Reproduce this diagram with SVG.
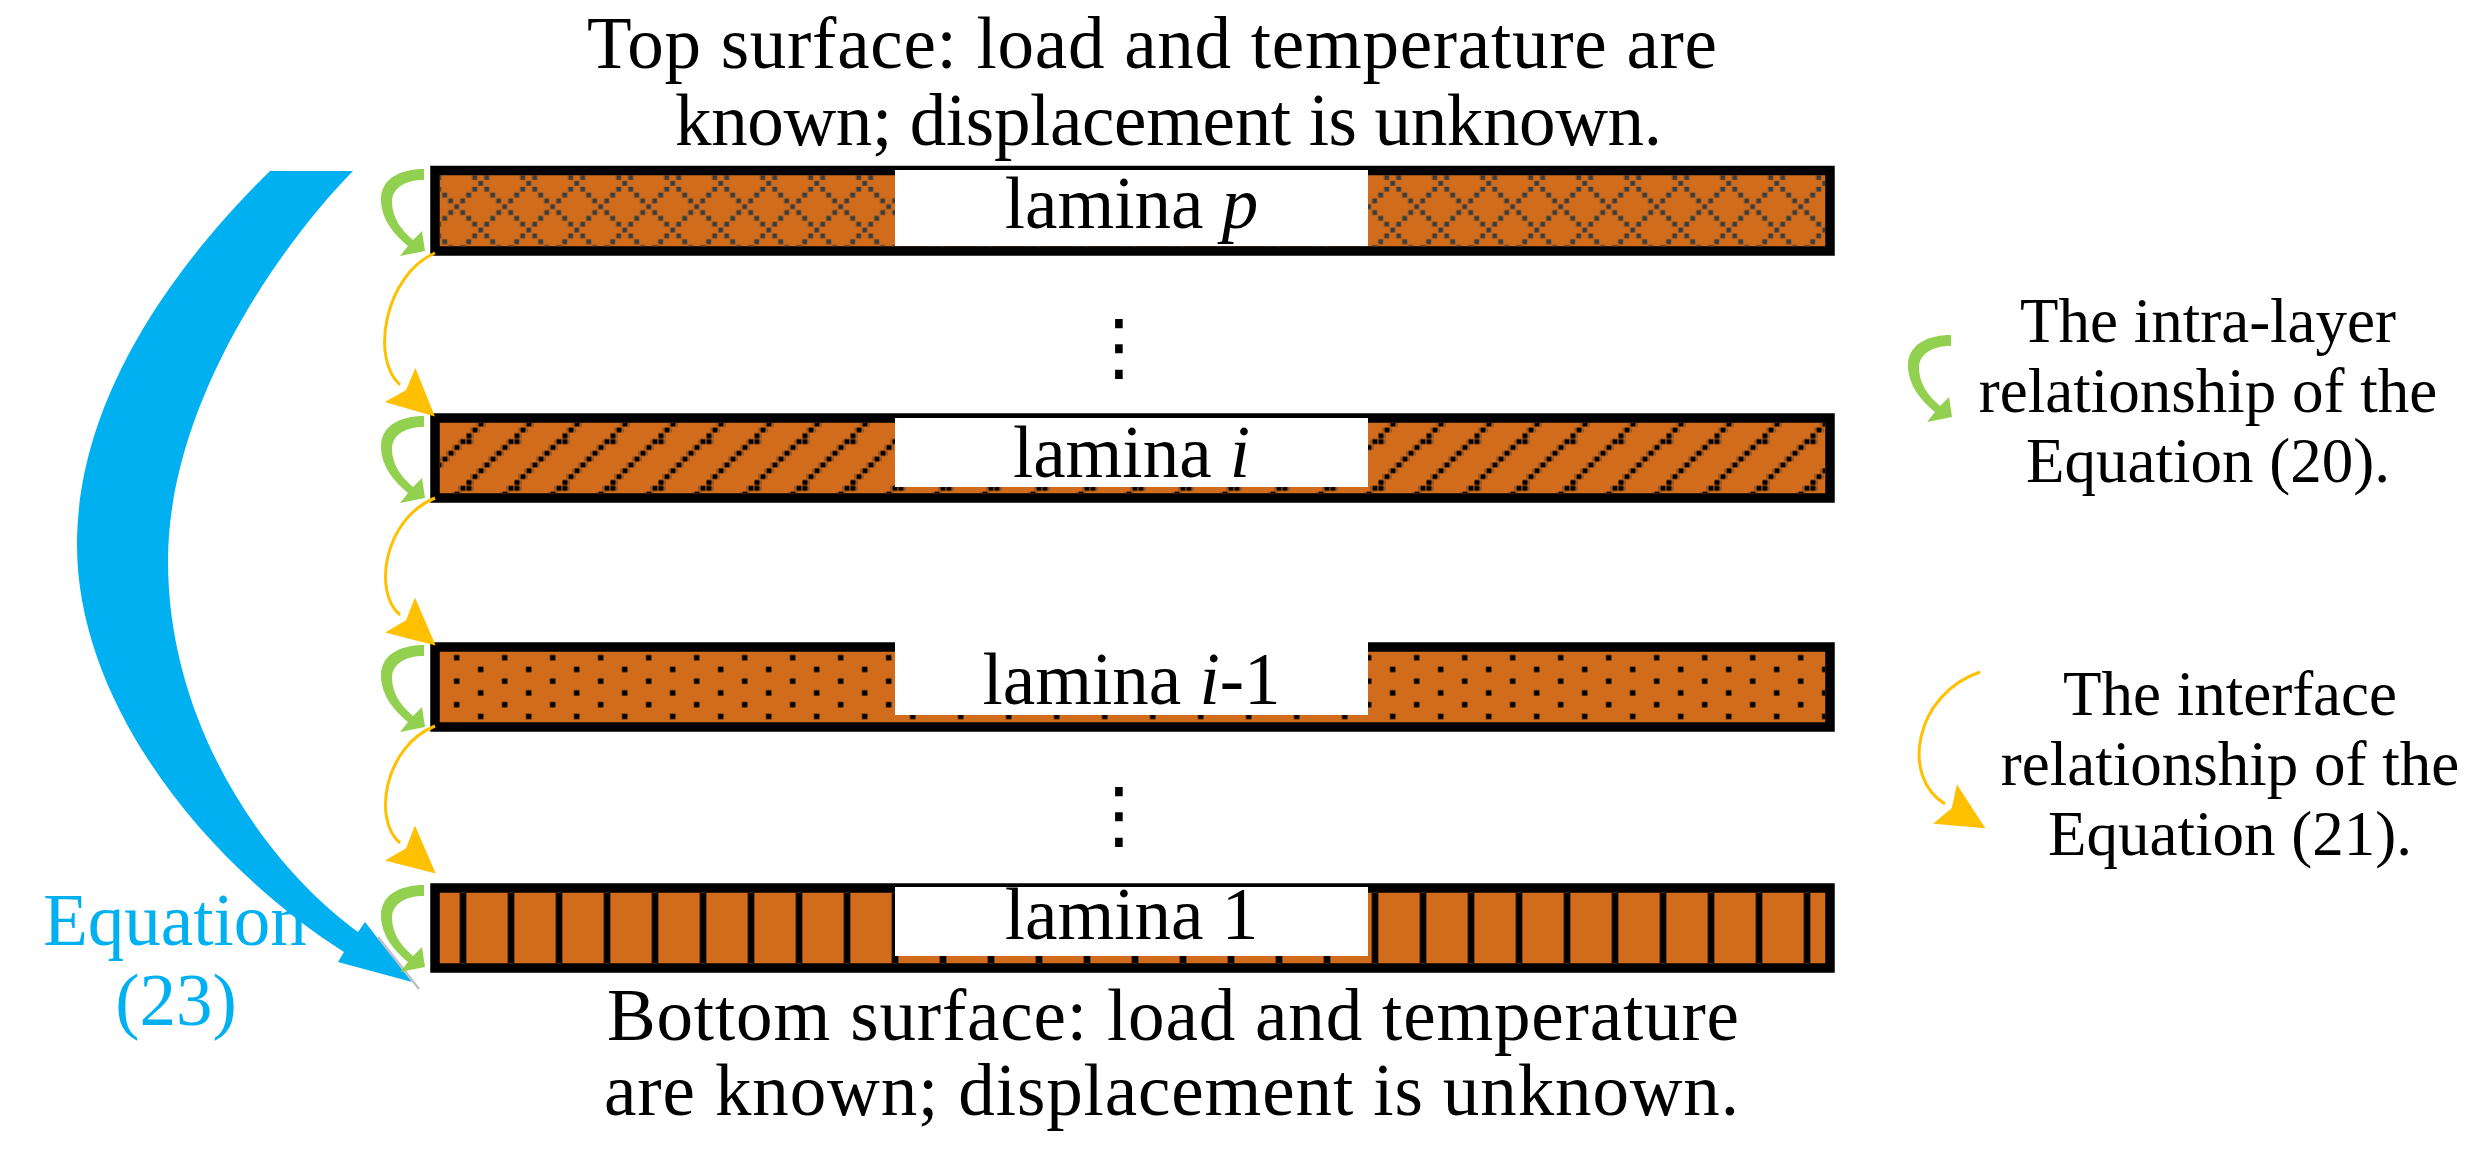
<svg xmlns="http://www.w3.org/2000/svg" width="2486" height="1157" viewBox="0 0 2486 1157">
<style>
.t{font-family:"Liberation Serif","Times New Roman",serif;font-size:73px;fill:#000}
.s{font-size:63px}
.eq{fill:#00B0F0}
.bar{fill:#D06C1C;stroke:#000;stroke-width:9.5}
.lbl{fill:#fff}
.dots{font-family:"DejaVu Sans",sans-serif;font-size:74px;fill:#000}
.ycon{fill:none;stroke:#FFC000;stroke-width:3;marker-end:url(#ah)}
.green{fill:#92D050}
</style>
<defs>
<marker id="ah" markerUnits="userSpaceOnUse" orient="auto" markerWidth="100" markerHeight="100" refX="50" refY="50">
<path d="M 97,50 L 50,27 L 58,50 L 50,73 Z" fill="#FFC000"/>
</marker>
<path id="garrow" d="M 0,0 C -24,0 -44,10 -43,32 C -42,52 -29,66 -16,77 L -24,87 L 1,82 L -2,62 L -11,71 C -23,61 -32,48 -32,33 C -32,19 -19,11 0,11 Z"/>
<pattern id="pDiamond" patternUnits="userSpaceOnUse" x="453.7" y="203.7" width="48" height="46.7">
<g fill="#3C3C3C">
<rect x="0.6" y="0.6" width="4.8" height="4.8"/>
<rect x="6.6" y="6.44" width="4.8" height="4.8"/>
<rect x="12.6" y="12.28" width="4.8" height="4.8"/>
<rect x="18.6" y="18.12" width="4.8" height="4.8"/>
<rect x="24.6" y="23.96" width="4.8" height="4.8"/>
<rect x="30.6" y="29.8" width="4.8" height="4.8"/>
<rect x="36.6" y="35.64" width="4.8" height="4.8"/>
<rect x="42.6" y="41.48" width="4.8" height="4.8"/>
<rect x="42.6" y="6.44" width="4.8" height="4.8"/>
<rect x="36.6" y="12.28" width="4.8" height="4.8"/>
<rect x="30.6" y="18.12" width="4.8" height="4.8"/>
<rect x="18.6" y="29.8" width="4.8" height="4.8"/>
<rect x="12.6" y="35.64" width="4.8" height="4.8"/>
<rect x="6.6" y="41.48" width="4.8" height="4.8"/>
</g>
</pattern>
<pattern id="pDiag" patternUnits="userSpaceOnUse" x="802" y="485.3" width="48" height="46.7">
<g fill="#A4561A">
<rect x="-2" y="0.6" width="10" height="4.8"/>
<rect x="4" y="35.6" width="10" height="4.8"/>
<rect x="10" y="29.8" width="10" height="4.8"/>
<rect x="16" y="23.9" width="10" height="4.8"/>
<rect x="22" y="18.1" width="10" height="4.8"/>
<rect x="28" y="12.3" width="10" height="4.8"/>
<rect x="34" y="6.4" width="10" height="4.8"/>
<rect x="40" y="0.6" width="10" height="4.8"/>
<rect x="-2" y="41.5" width="10" height="4.8"/>
</g>
<g fill="#000">
<rect x="0.6" y="0.6" width="4.8" height="4.8"/>
<rect x="6.6" y="35.64" width="4.8" height="4.8"/>
<rect x="12.6" y="29.8" width="4.8" height="4.8"/>
<rect x="18.6" y="23.96" width="4.8" height="4.8"/>
<rect x="24.6" y="18.12" width="4.8" height="4.8"/>
<rect x="30.6" y="12.28" width="4.8" height="4.8"/>
<rect x="36.6" y="6.44" width="4.8" height="4.8"/>
<rect x="42.6" y="0.6" width="4.8" height="4.8"/>
<rect x="0.6" y="41.48" width="4.8" height="4.8"/>
</g>
</pattern>
<pattern id="pDots" patternUnits="userSpaceOnUse" x="453.7" y="654.7" width="48" height="47">
<g fill="#000">
<rect x="0.3" y="0.3" width="5.4" height="5.4"/>
<rect x="24.3" y="12.05" width="5.4" height="5.4"/>
<rect x="0.3" y="23.8" width="5.4" height="5.4"/>
<rect x="24.3" y="35.55" width="5.4" height="5.4"/>
</g>
</pattern>
<pattern id="pBars" patternUnits="userSpaceOnUse" x="459" y="0" width="48" height="100">
<rect x="0" y="0" width="8" height="100" fill="#8A4512"/>
<rect x="1.2" y="0" width="5.7" height="100" fill="#000"/>
</pattern>
</defs>
<rect width="2486" height="1157" fill="#fff"/>

<g id="top-label">
<text class="t" x="587" y="68" textLength="1130">Top surface: load and temperature are</text>
<text class="t" x="675" y="145" textLength="987">known; displacement is unknown.</text>
</g>

<g id="lamina-p">
<rect class="bar" x="435" y="170.5" width="1395" height="80.5"/>
<rect x="440" y="175" width="1385" height="71.5" fill="url(#pDiamond)"/>
<rect class="lbl" x="895" y="170" width="473" height="76"/>
<text class="t" x="1131.5" y="228" text-anchor="middle">lamina <tspan font-style="italic">p</tspan></text>
</g>

<g id="ellipsis-1">
<text class="dots" x="1119" y="372" text-anchor="middle">⋮</text>
</g>

<g id="lamina-i">
<rect class="bar" x="435" y="418" width="1395" height="80"/>
<rect x="440" y="423" width="1385" height="70" fill="url(#pDiag)"/>
<rect class="lbl" x="895" y="418" width="473" height="69"/>
<text class="t" x="1131.5" y="477" text-anchor="middle">lamina <tspan font-style="italic">i</tspan></text>
</g>

<g id="lamina-i-1">
<rect class="bar" x="435" y="647" width="1395" height="80"/>
<rect x="440" y="652" width="1385" height="70" fill="url(#pDots)"/>
<rect class="lbl" x="895" y="642" width="473" height="73"/>
<text class="t" x="1131.5" y="704" text-anchor="middle">lamina <tspan font-style="italic">i</tspan>-1</text>
</g>

<g id="ellipsis-2">
<text class="dots" x="1119" y="840" text-anchor="middle">⋮</text>
</g>

<g id="lamina-1">
<rect class="bar" x="435" y="888" width="1395" height="80"/>
<rect x="440" y="893" width="1385" height="70" fill="url(#pBars)"/>
<rect class="lbl" x="895" y="887" width="473" height="69"/>
<text class="t" x="1131.5" y="939" text-anchor="middle">lamina 1</text>
</g>

<g id="bottom-label">
<text class="t" x="607" y="1040" textLength="1132">Bottom surface: load and temperature</text>
<text class="t" x="604" y="1115" textLength="1135">are known; displacement is unknown.</text>
</g>

<g id="legend-intra">
<use href="#garrow" class="green" transform="translate(1951,335)"/>
<text class="t s" x="2208" y="342" text-anchor="middle">The intra-layer</text>
<text class="t s" x="2208" y="412" text-anchor="middle">relationship of the</text>
<text class="t s" x="2208" y="482" text-anchor="middle">Equation (20).</text>
</g>

<g id="legend-interface">
<path class="ycon" d="M 1980,672 C 1915,694 1900,777 1945,804"/>
<text class="t s" x="2230" y="715" text-anchor="middle">The interface</text>
<text class="t s" x="2230" y="785" text-anchor="middle">relationship of the</text>
<text class="t s" x="2230" y="855" text-anchor="middle">Equation (21).</text>
</g>

<g id="equation-23">
<text class="t eq" x="175" y="945" text-anchor="middle">Equation</text>
<text class="t eq" x="176" y="1025" text-anchor="middle">(23)</text>
</g>

<g id="connectors">
<path d="M 270,171 C 200,240 77,380 77,545 C 77,700 200,860 344,952 L 338,962 L 412,982 L 365,922 L 358,932 C 260,860 168,720 168,561 C 168,400 285,240 353,171 Z" fill="#00B0F0"/>
<path d="M 378,937 L 419,989" stroke="#C0C0C0" stroke-width="2.5" fill="none"/>
<use href="#garrow" class="green" transform="translate(424,169)"/>
<use href="#garrow" class="green" transform="translate(424,416)"/>
<use href="#garrow" class="green" transform="translate(424,645)"/>
<use href="#garrow" class="green" transform="translate(424,885)"/>
<path class="ycon" d="M 435,253 C 385,275 370,358 400,385"/>
<path class="ycon" d="M 435,498 C 385,518 372,591 400,615"/>
<path class="ycon" d="M 435,726 C 385,746 372,819 400,843"/>
</g>
</svg>
